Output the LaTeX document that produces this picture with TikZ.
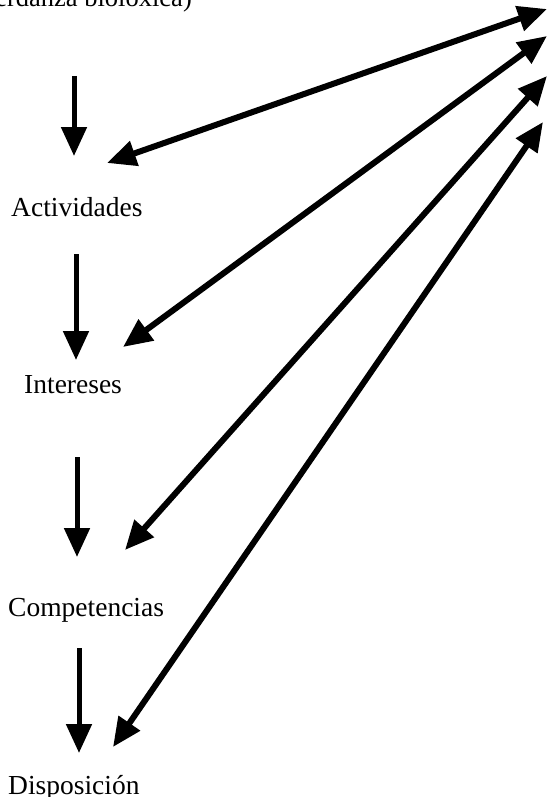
\documentclass[tikz,border=0pt]{standalone}
\usepackage{fontspec}
\setmainfont{Liberation Serif}
\usetikzlibrary{arrows.meta}
\begin{document}
\begin{tikzpicture}[x=1pt,y=-1pt,
  lbl/.style={inner sep=0pt, font=\fontsize{27.5}{30}\selectfont},
  headtip/.tip={Triangle[length=29pt,width=25pt]},
  downarrow/.style={line width=5pt, -headtip},
  twoway/.style={line width=6pt, headtip-headtip}]
\useasboundingbox (0,0) rectangle (547,797);
\clip (0,0) rectangle (547,797);
% labels
\node[lbl, anchor=base east, font=\fontsize{26.5}{30}\selectfont] (herd) at (192,7) {erdanza bioloxica)};
\node[lbl, anchor=base west] (act) at (11,216) {Actividades};
\node[lbl, anchor=base west] (int) at (24,393) {Intereses};
\node[lbl, anchor=base west] (comp) at (8,616) {Competencias};
\node[lbl, anchor=base west] (disp) at (8,794) {Disposición};
% vertical arrow ends
\coordinate (v1a) at (74,76);  \coordinate (v1b) at (74,156);
\coordinate (v2a) at (76,254); \coordinate (v2b) at (76,360);
\coordinate (v3a) at (77,457); \coordinate (v3b) at (77,557);
\coordinate (v4a) at (79,648); \coordinate (v4b) at (79,753);
\draw[downarrow] (v1a) -- (v1b);
\draw[downarrow] (v2a) -- (v2b);
\draw[downarrow] (v3a) -- (v3b);
\draw[downarrow] (v4a) -- (v4b);
% diagonal arrow ends
\coordinate (d1l) at (107,163); \coordinate (d1r) at (547,9);
\coordinate (d2l) at (123,347); \coordinate (d2r) at (547,36);
\coordinate (d3l) at (125,550); \coordinate (d3r) at (547,76);
\coordinate (d4l) at (113,747); \coordinate (d4r) at (543,122);
\draw[twoway] (d1l) -- (d1r);
\draw[twoway] (d2l) -- (d2r);
\draw[twoway] (d3l) -- (d3r);
\draw[twoway] (d4l) -- (d4r);
\end{tikzpicture}
\end{document}
